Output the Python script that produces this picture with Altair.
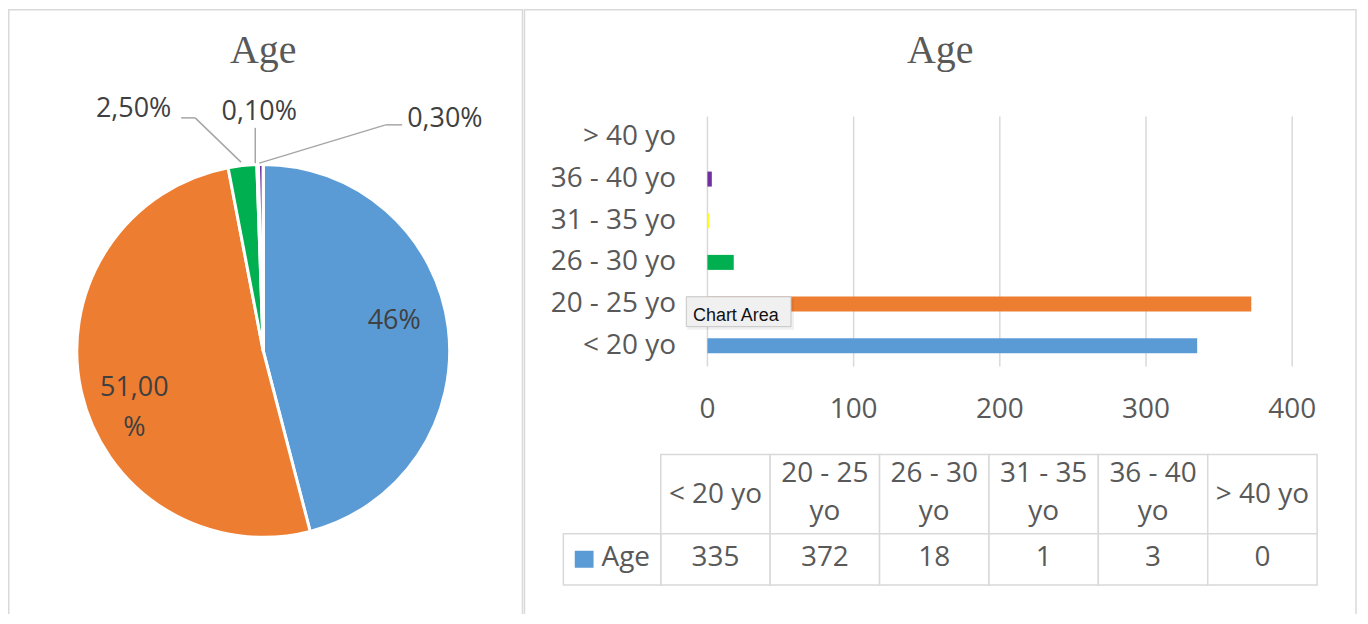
import altair as alt
import pandas as pd

# ---------------- data ----------------
categories = ["< 20 yo", "20 - 25 yo", "26 - 30 yo", "31 - 35 yo", "36 - 40 yo", "> 40 yo"]
counts = [335, 372, 18, 1, 3, 0]
table_headers = ["< 20 yo", "20 - 25\nyo", "26 - 30\nyo", "31 - 35\nyo", "36 - 40\nyo", "> 40 yo"]
pie_labels = ["46%", "51,00\n%", "2,50%", "0,10%", "0,30%"]
x_ticks = [0, 100, 200, 300, 400]
series_name = "Age"
chart_title = "Age"
tooltip_text = "Chart Area"

colors = ["#5B9BD5", "#ED7D31", "#00B050", "#FFFF00", "#7030A0", "#A5A5A5"]

df = pd.DataFrame({"cat": categories, "value": counts,
                   "idx": list(range(len(categories))), "header": table_headers})
ticks_df = pd.DataFrame({"t": x_ticks})
one = pd.DataFrame({"k": [0]})

SANS = "Open Sans"
GRID = "#d9d9d9"
LABEL = "#595959"
PIE_TXT = "#404040"

color_scale = alt.Scale(domain=categories, range=colors)


def text_layer(s, x, y, size, color, font=SANS, align="center", baseline="middle", lh=None):
    kw = dict(text=s, fontSize=size, color=color, font=font, align=align, baseline=baseline)
    if lh is not None:
        kw["lineBreak"] = "\n"
        kw["lineHeight"] = lh
    return alt.Chart(one).mark_text(**kw).encode(x=alt.value(x), y=alt.value(y))


def seg(x1, y1, x2, y2, color="#a6a6a6", w=1.5):
    return alt.Chart(one).mark_rule(color=color, strokeWidth=w).encode(
        x=alt.value(x1), x2=alt.value(x2), y=alt.value(y1), y2=alt.value(y2))


def box(x1, y1, x2, y2, fill="white", stroke=GRID, w=1.5, opacity=1.0):
    return alt.Chart(one).mark_rect(fill=fill, stroke=stroke, strokeWidth=w, opacity=opacity).encode(
        x=alt.value(x1), x2=alt.value(x2), y=alt.value(y1), y2=alt.value(y2))


layers = []

# panel frames
layers.append(box(0.75, 0.75, 516, 640))
layers.append(box(518, 0.75, 1352, 640))

# titles
layers.append(text_layer(chart_title, 256, 54.5, 40, LABEL, font="Liberation Serif", baseline="alphabetic"))
layers.append(text_layer(chart_title, 935, 54.5, 40, LABEL, font="Liberation Serif", baseline="alphabetic"))

# ---------------- pie ----------------
pie = alt.Chart(df).mark_arc(outerRadius=187, stroke="white", strokeWidth=3).encode(
    theta=alt.Theta("value:Q", stack=True),
    color=alt.Color("cat:N", scale=color_scale, legend=None),
    order=alt.Order("idx:Q"),
    x=alt.value(256), y=alt.value(343),
)
layers.append(pie)

# leader lines
layers += [
    seg(173.7, 109.3, 187.7, 109.3), seg(187.7, 109.3, 233.7, 153.7),
    seg(248, 119.3, 248, 154.7),
    seg(395.3, 116.3, 378.7, 116.3), seg(378.7, 116.3, 252, 154.7),
]

# pie labels
layers += [
    text_layer(pie_labels[0], 387.3, 313.2, 27, PIE_TXT),
    text_layer(pie_labels[1], 126.7, 380.2, 27, PIE_TXT, lh=40),
    text_layer(pie_labels[2], 126, 100.5, 27, PIE_TXT),
    text_layer(pie_labels[3], 252, 103.2, 27, PIE_TXT),
    text_layer(pie_labels[4], 438.2, 110.1, 27, PIE_TXT),
]

# ---------------- bar chart ----------------
bx_scale = dict(domain=[0, 400], range=[701.5, 1288], nice=False, zero=True)
by = alt.Y("cat:N", sort=categories[::-1], axis=None,
           scale=alt.Scale(type="band", range=[108, 358.7], paddingInner=0.64, paddingOuter=0.32))

grid = alt.Chart(ticks_df).mark_rule(color=GRID, strokeWidth=1.5).encode(
    x=alt.X("t:Q", scale=alt.Scale(**bx_scale), axis=None),
    y=alt.value(108), y2=alt.value(358.7))
layers.append(grid)

bars = alt.Chart(df).mark_bar().encode(
    x=alt.X("value:Q", scale=alt.Scale(**bx_scale), axis=None),
    y=by,
    color=alt.Color("cat:N", scale=color_scale, legend=None))
layers.append(bars)

ylabels = alt.Chart(df).mark_text(align="right", baseline="middle", fontSize=28, font=SANS, color=LABEL).encode(
    y=by, x=alt.value(670), text="cat:N")
layers.append(ylabels)

xlabels = alt.Chart(ticks_df).mark_text(align="center", baseline="middle", fontSize=28, font=SANS, color=LABEL).encode(
    x=alt.X("t:Q", scale=alt.Scale(**bx_scale), axis=None), y=alt.value(402), text="t:Q")
layers.append(xlabels)

# ---------------- data table ----------------
tx_scale = dict(type="band", domain=categories, range=[654.7, 1313], paddingInner=0, paddingOuter=0)

head_cells = alt.Chart(df).mark_rect(fill="white", stroke=GRID, strokeWidth=1.5).encode(
    x=alt.X("cat:N", scale=alt.Scale(**tx_scale), axis=None),
    y=alt.value(447), y2=alt.value(526.3))
val_cells = alt.Chart(df).mark_rect(fill="white", stroke=GRID, strokeWidth=1.5).encode(
    x=alt.X("cat:N", scale=alt.Scale(**tx_scale), axis=None),
    y=alt.value(526.3), y2=alt.value(577.7))
layers += [head_cells, val_cells, box(557, 526.3, 654.7, 577.7)]

head_base = alt.Chart(df).transform_calculate(
    multi="indexof(datum.header, '\\n') >= 0 ? 1 : 0")
head_single = head_base.transform_filter("datum.multi == 0").mark_text(
    align="center", baseline="middle", fontSize=28, font=SANS, color=LABEL).encode(
    x=alt.X("cat:N", scale=alt.Scale(**tx_scale), axis=None), y=alt.value(487.5), text="header:N")
head_multi = head_base.transform_filter("datum.multi == 1").mark_text(
    align="center", baseline="middle", fontSize=28, font=SANS, color=LABEL,
    lineBreak="\n", lineHeight=38).encode(
    x=alt.X("cat:N", scale=alt.Scale(**tx_scale), axis=None), y=alt.value(466.6), text="header:N")
val_txt = alt.Chart(df).mark_text(align="center", baseline="middle", fontSize=28, font=SANS, color=LABEL).encode(
    x=alt.X("cat:N", scale=alt.Scale(**tx_scale), axis=None), y=alt.value(551), text="value:Q")
layers += [head_single, head_multi, val_txt]

# legend key in table
layers.append(box(568.7, 543.7, 587, 560.3, fill=colors[0], stroke=colors[0], w=0.5))
layers.append(text_layer(series_name, 595.3, 551, 28, LABEL, align="left"))

# ---------------- tooltip overlay ----------------
layers.append(box(681.3, 290.7, 788.3, 321.7, fill="#000000", stroke="#000000", w=0, opacity=0.06))
layers.append(box(680.3, 288.7, 785.3, 318.7, fill="#f0f0f0", stroke="#c6c6c6", w=1))
layers.append(text_layer(tooltip_text, 687, 313, 18, "#111111", font="Liberation Sans",
                         align="left", baseline="alphabetic"))

chart = alt.layer(*layers).resolve_scale(x="independent").properties(
    width=1356, height=606, autosize="none", padding=0, background="white"
).configure_view(stroke=None)

chart.save("out.html", embed_options={"renderer": "svg", "actions": False})
